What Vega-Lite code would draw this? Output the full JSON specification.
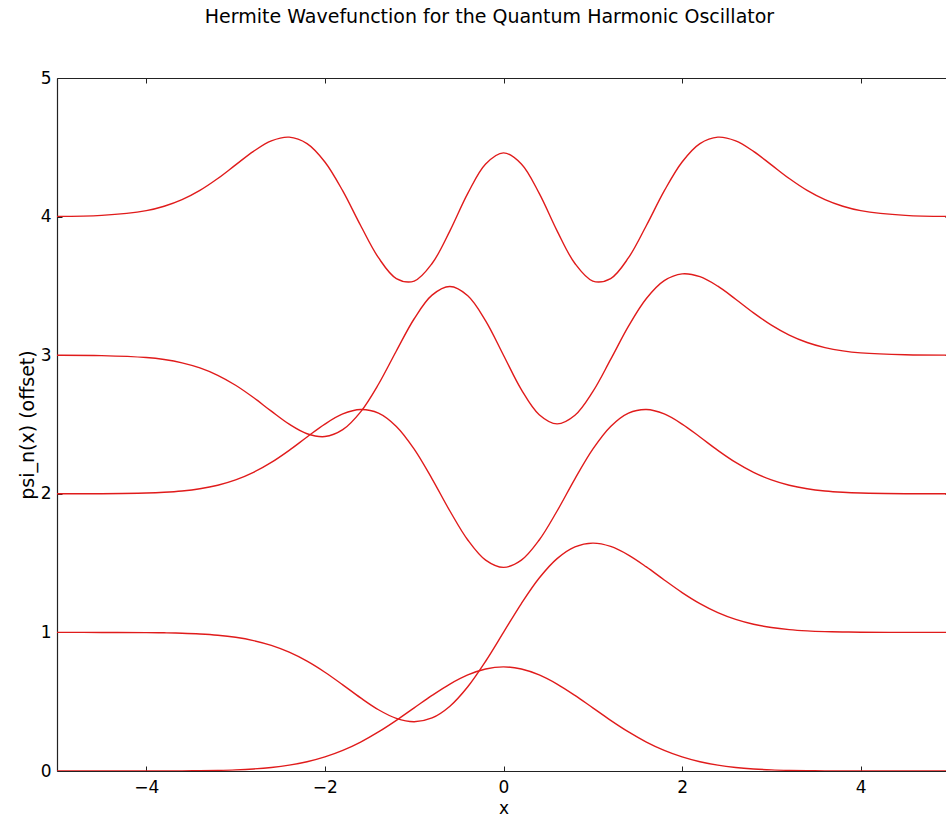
{
  "$schema": "https://vega.github.io/schema/vega-lite/v6.json",
  "width": 893,
  "height": 693,
  "autosize": {"type": "none"},
  "padding": {"left": 57, "top": 78, "right": 0, "bottom": 49},
  "background": "white",
  "title": {
    "text": "Hermite Wavefunction for the Quantum Harmonic Oscillator",
    "font": "DejaVu Sans",
    "fontSize": 19,
    "fontWeight": "normal",
    "color": "#000",
    "offset": 42,
    "dx": -14
  },
  "config": {
    "view": {"stroke": null},
    "axis": {
      "labelFont": "DejaVu Sans",
      "titleFont": "DejaVu Sans",
      "labelFontSize": 17,
      "titleFontSize": 19,
      "titleFontWeight": "normal",
      "labelColor": "#000",
      "titleColor": "#000",
      "domainColor": "#222",
      "domainWidth": 1.2,
      "tickColor": "#222",
      "tickSize": -5,
      "grid": false
    }
  },
  "data": {
    "values": [
      {"n": 0, "x": -5, "y": 0},
      {"n": 0, "x": -4.5, "y": 0},
      {"n": 0, "x": -4, "y": 0.0003},
      {"n": 0, "x": -3.8, "y": 0.0005},
      {"n": 0, "x": -3.6, "y": 0.0012},
      {"n": 0, "x": -3.4, "y": 0.0023},
      {"n": 0, "x": -3.2, "y": 0.0045},
      {"n": 0, "x": -3, "y": 0.0083},
      {"n": 0, "x": -2.8, "y": 0.0149},
      {"n": 0, "x": -2.6, "y": 0.0256},
      {"n": 0, "x": -2.4, "y": 0.0422},
      {"n": 0, "x": -2.2, "y": 0.0668},
      {"n": 0, "x": -2, "y": 0.1017},
      {"n": 0, "x": -1.8, "y": 0.1487},
      {"n": 0, "x": -1.6, "y": 0.2088},
      {"n": 0, "x": -1.4, "y": 0.2819},
      {"n": 0, "x": -1.2, "y": 0.3656},
      {"n": 0, "x": -1, "y": 0.4556},
      {"n": 0, "x": -0.8, "y": 0.5454},
      {"n": 0, "x": -0.6, "y": 0.6274},
      {"n": 0, "x": -0.4, "y": 0.6934},
      {"n": 0, "x": -0.2, "y": 0.7363},
      {"n": 0, "x": 0, "y": 0.7511},
      {"n": 0, "x": 0.2, "y": 0.7363},
      {"n": 0, "x": 0.4, "y": 0.6934},
      {"n": 0, "x": 0.6, "y": 0.6274},
      {"n": 0, "x": 0.8, "y": 0.5454},
      {"n": 0, "x": 1, "y": 0.4556},
      {"n": 0, "x": 1.2, "y": 0.3656},
      {"n": 0, "x": 1.4, "y": 0.2819},
      {"n": 0, "x": 1.6, "y": 0.2088},
      {"n": 0, "x": 1.8, "y": 0.1487},
      {"n": 0, "x": 2, "y": 0.1017},
      {"n": 0, "x": 2.2, "y": 0.0668},
      {"n": 0, "x": 2.4, "y": 0.0422},
      {"n": 0, "x": 2.6, "y": 0.0256},
      {"n": 0, "x": 2.8, "y": 0.0149},
      {"n": 0, "x": 3, "y": 0.0083},
      {"n": 0, "x": 3.2, "y": 0.0045},
      {"n": 0, "x": 3.4, "y": 0.0023},
      {"n": 0, "x": 3.6, "y": 0.0012},
      {"n": 0, "x": 3.8, "y": 0.0005},
      {"n": 0, "x": 4, "y": 0.0003},
      {"n": 0, "x": 4.5, "y": 0},
      {"n": 0, "x": 5, "y": 0},

      {"n": 1, "x": -5, "y": 1.0},
      {"n": 1, "x": -4.5, "y": 0.9998},
      {"n": 1, "x": -4, "y": 0.9986},
      {"n": 1, "x": -3.8, "y": 0.997},
      {"n": 1, "x": -3.6, "y": 0.9941},
      {"n": 1, "x": -3.4, "y": 0.9888},
      {"n": 1, "x": -3.2, "y": 0.9797},
      {"n": 1, "x": -3, "y": 0.9646},
      {"n": 1, "x": -2.8, "y": 0.941},
      {"n": 1, "x": -2.6, "y": 0.906},
      {"n": 1, "x": -2.4, "y": 0.8569},
      {"n": 1, "x": -2.2, "y": 0.7922},
      {"n": 1, "x": -2, "y": 0.7125},
      {"n": 1, "x": -1.8, "y": 0.6216},
      {"n": 1, "x": -1.6, "y": 0.5274},
      {"n": 1, "x": -1.4, "y": 0.4419},
      {"n": 1, "x": -1.2, "y": 0.3795},
      {"n": 1, "x": -1, "y": 0.3557},
      {"n": 1, "x": -0.8, "y": 0.3829},
      {"n": 1, "x": -0.6, "y": 0.4676},
      {"n": 1, "x": -0.4, "y": 0.6078},
      {"n": 1, "x": -0.2, "y": 0.7918},
      {"n": 1, "x": 0, "y": 1.0},
      {"n": 1, "x": 0.2, "y": 1.2082},
      {"n": 1, "x": 0.4, "y": 1.3922},
      {"n": 1, "x": 0.6, "y": 1.5324},
      {"n": 1, "x": 0.8, "y": 1.6171},
      {"n": 1, "x": 1, "y": 1.6443},
      {"n": 1, "x": 1.2, "y": 1.6205},
      {"n": 1, "x": 1.4, "y": 1.5581},
      {"n": 1, "x": 1.6, "y": 1.4726},
      {"n": 1, "x": 1.8, "y": 1.3784},
      {"n": 1, "x": 2, "y": 1.2875},
      {"n": 1, "x": 2.2, "y": 1.2078},
      {"n": 1, "x": 2.4, "y": 1.1431},
      {"n": 1, "x": 2.6, "y": 1.094},
      {"n": 1, "x": 2.8, "y": 1.059},
      {"n": 1, "x": 3, "y": 1.0354},
      {"n": 1, "x": 3.2, "y": 1.0203},
      {"n": 1, "x": 3.4, "y": 1.0112},
      {"n": 1, "x": 3.6, "y": 1.0059},
      {"n": 1, "x": 3.8, "y": 1.003},
      {"n": 1, "x": 4, "y": 1.0014},
      {"n": 1, "x": 4.5, "y": 1.0002},
      {"n": 1, "x": 5, "y": 1.0},

      {"n": 2, "x": -5, "y": 2.0001},
      {"n": 2, "x": -4.5, "y": 2.0008},
      {"n": 2, "x": -4, "y": 2.0055},
      {"n": 2, "x": -3.8, "y": 2.0108},
      {"n": 2, "x": -3.6, "y": 2.0203},
      {"n": 2, "x": -3.4, "y": 2.0363},
      {"n": 2, "x": -3.2, "y": 2.0618},
      {"n": 2, "x": -3, "y": 2.1003},
      {"n": 2, "x": -2.8, "y": 2.1547},
      {"n": 2, "x": -2.6, "y": 2.2264},
      {"n": 2, "x": -2.4, "y": 2.3137},
      {"n": 2, "x": -2.2, "y": 2.41},
      {"n": 2, "x": -2, "y": 2.5032},
      {"n": 2, "x": -1.8, "y": 2.576},
      {"n": 2, "x": -1.6, "y": 2.6084},
      {"n": 2, "x": -1.4, "y": 2.5821},
      {"n": 2, "x": -1.2, "y": 2.486},
      {"n": 2, "x": -1, "y": 2.3222},
      {"n": 2, "x": -0.8, "y": 2.108},
      {"n": 2, "x": -0.6, "y": 1.8758},
      {"n": 2, "x": -0.4, "y": 1.6666},
      {"n": 2, "x": -0.2, "y": 1.521},
      {"n": 2, "x": 0, "y": 1.4689},
      {"n": 2, "x": 0.2, "y": 1.521},
      {"n": 2, "x": 0.4, "y": 1.6666},
      {"n": 2, "x": 0.6, "y": 1.8758},
      {"n": 2, "x": 0.8, "y": 2.108},
      {"n": 2, "x": 1, "y": 2.3222},
      {"n": 2, "x": 1.2, "y": 2.486},
      {"n": 2, "x": 1.4, "y": 2.5821},
      {"n": 2, "x": 1.6, "y": 2.6084},
      {"n": 2, "x": 1.8, "y": 2.576},
      {"n": 2, "x": 2, "y": 2.5032},
      {"n": 2, "x": 2.2, "y": 2.41},
      {"n": 2, "x": 2.4, "y": 2.3137},
      {"n": 2, "x": 2.6, "y": 2.2264},
      {"n": 2, "x": 2.8, "y": 2.1547},
      {"n": 2, "x": 3, "y": 2.1003},
      {"n": 2, "x": 3.2, "y": 2.0618},
      {"n": 2, "x": 3.4, "y": 2.0363},
      {"n": 2, "x": 3.6, "y": 2.0203},
      {"n": 2, "x": 3.8, "y": 2.0108},
      {"n": 2, "x": 4, "y": 2.0055},
      {"n": 2, "x": 4.5, "y": 2.0008},
      {"n": 2, "x": 5, "y": 2.0001},

      {"n": 3, "x": -5, "y": 2.9996},
      {"n": 3, "x": -4.5, "y": 2.9971},
      {"n": 3, "x": -4, "y": 2.9831},
      {"n": 3, "x": -3.8, "y": 2.9688},
      {"n": 3, "x": -3.6, "y": 2.9451},
      {"n": 3, "x": -3.4, "y": 2.9084},
      {"n": 3, "x": -3.2, "y": 2.855},
      {"n": 3, "x": -3, "y": 2.7832},
      {"n": 3, "x": -2.8, "y": 2.6945},
      {"n": 3, "x": -2.6, "y": 2.5961},
      {"n": 3, "x": -2.4, "y": 2.5022},
      {"n": 3, "x": -2.2, "y": 2.4333},
      {"n": 3, "x": -2, "y": 2.4131},
      {"n": 3, "x": -1.8, "y": 2.4624},
      {"n": 3, "x": -1.6, "y": 2.591},
      {"n": 3, "x": -1.4, "y": 2.7904},
      {"n": 3, "x": -1.2, "y": 3.0304},
      {"n": 3, "x": -1, "y": 3.263},
      {"n": 3, "x": -0.8, "y": 3.4333},
      {"n": 3, "x": -0.6, "y": 3.4955},
      {"n": 3, "x": -0.4, "y": 3.4291},
      {"n": 3, "x": -0.2, "y": 3.2482},
      {"n": 3, "x": 0, "y": 3.0},
      {"n": 3, "x": 0.2, "y": 2.7518},
      {"n": 3, "x": 0.4, "y": 2.5709},
      {"n": 3, "x": 0.6, "y": 2.5045},
      {"n": 3, "x": 0.8, "y": 2.5667},
      {"n": 3, "x": 1, "y": 2.737},
      {"n": 3, "x": 1.2, "y": 2.9696},
      {"n": 3, "x": 1.4, "y": 3.2096},
      {"n": 3, "x": 1.6, "y": 3.409},
      {"n": 3, "x": 1.8, "y": 3.5376},
      {"n": 3, "x": 2, "y": 3.5869},
      {"n": 3, "x": 2.2, "y": 3.5667},
      {"n": 3, "x": 2.4, "y": 3.4978},
      {"n": 3, "x": 2.6, "y": 3.4039},
      {"n": 3, "x": 2.8, "y": 3.3055},
      {"n": 3, "x": 3, "y": 3.2168},
      {"n": 3, "x": 3.2, "y": 3.145},
      {"n": 3, "x": 3.4, "y": 3.0916},
      {"n": 3, "x": 3.6, "y": 3.0549},
      {"n": 3, "x": 3.8, "y": 3.0312},
      {"n": 3, "x": 4, "y": 3.0169},
      {"n": 3, "x": 4.5, "y": 3.0029},
      {"n": 3, "x": 5, "y": 3.0004},

      {"n": 4, "x": -5, "y": 4.0013},
      {"n": 4, "x": -4.5, "y": 4.0086},
      {"n": 4, "x": -4, "y": 4.0429},
      {"n": 4, "x": -3.8, "y": 4.0745},
      {"n": 4, "x": -3.6, "y": 4.1221},
      {"n": 4, "x": -3.4, "y": 4.1889},
      {"n": 4, "x": -3.2, "y": 4.2745},
      {"n": 4, "x": -3, "y": 4.373},
      {"n": 4, "x": -2.8, "y": 4.4709},
      {"n": 4, "x": -2.6, "y": 4.5464},
      {"n": 4, "x": -2.4, "y": 4.5731},
      {"n": 4, "x": -2.2, "y": 4.5266},
      {"n": 4, "x": -2, "y": 4.3942},
      {"n": 4, "x": -1.8, "y": 4.1854},
      {"n": 4, "x": -1.6, "y": 3.9358},
      {"n": 4, "x": -1.4, "y": 3.7034},
      {"n": 4, "x": -1.2, "y": 3.5533},
      {"n": 4, "x": -1, "y": 3.535},
      {"n": 4, "x": -0.8, "y": 3.6614},
      {"n": 4, "x": -0.6, "y": 3.8973},
      {"n": 4, "x": -0.4, "y": 4.1674},
      {"n": 4, "x": -0.2, "y": 4.3797},
      {"n": 4, "x": 0, "y": 4.46},
      {"n": 4, "x": 0.2, "y": 4.3797},
      {"n": 4, "x": 0.4, "y": 4.1674},
      {"n": 4, "x": 0.6, "y": 3.8973},
      {"n": 4, "x": 0.8, "y": 3.6614},
      {"n": 4, "x": 1, "y": 3.535},
      {"n": 4, "x": 1.2, "y": 3.5533},
      {"n": 4, "x": 1.4, "y": 3.7034},
      {"n": 4, "x": 1.6, "y": 3.9358},
      {"n": 4, "x": 1.8, "y": 4.1854},
      {"n": 4, "x": 2, "y": 4.3942},
      {"n": 4, "x": 2.2, "y": 4.5266},
      {"n": 4, "x": 2.4, "y": 4.5731},
      {"n": 4, "x": 2.6, "y": 4.5464},
      {"n": 4, "x": 2.8, "y": 4.4709},
      {"n": 4, "x": 3, "y": 4.373},
      {"n": 4, "x": 3.2, "y": 4.2745},
      {"n": 4, "x": 3.4, "y": 4.1889},
      {"n": 4, "x": 3.6, "y": 4.1221},
      {"n": 4, "x": 3.8, "y": 4.0745},
      {"n": 4, "x": 4, "y": 4.0429},
      {"n": 4, "x": 4.5, "y": 4.0086},
      {"n": 4, "x": 5, "y": 4.0013}
    ]
  },
  "layer": [
    {
      "mark": {"type": "line", "color": "#e01b1b", "strokeWidth": 1.4, "interpolate": "catmull-rom", "clip": true},
      "encoding": {
        "x": {
          "field": "x", "type": "quantitative",
          "scale": {"domain": [-5, 5], "nice": false, "zero": false},
          "axis": {"title": "x", "titleFontSize": 17, "values": [-4, -2, 0, 2, 4], "labelPadding": 13, "titlePadding": 5}
        },
        "y": {
          "field": "y", "type": "quantitative",
          "scale": {"domain": [0, 5], "nice": false, "zero": false},
          "axis": {"title": "psi_n(x) (offset)", "values": [0, 1, 2, 3, 4, 5], "labelPadding": 11, "titlePadding": 3}
        },
        "detail": {"field": "n", "type": "nominal"}
      }
    },
    {
      "mark": {"type": "point", "opacity": 0},
      "encoding": {
        "x": {
          "field": "x", "type": "quantitative",
          "axis": {"orient": "top", "title": null, "labels": false, "values": [-4, -2, 0, 2, 4]}
        },
        "y": {
          "field": "y", "type": "quantitative",
          "axis": {"orient": "right", "title": null, "labels": false, "values": [0, 1, 2, 3, 4, 5]}
        }
      }
    }
  ],
  "resolve": {"axis": {"x": "independent", "y": "independent"}}
}
